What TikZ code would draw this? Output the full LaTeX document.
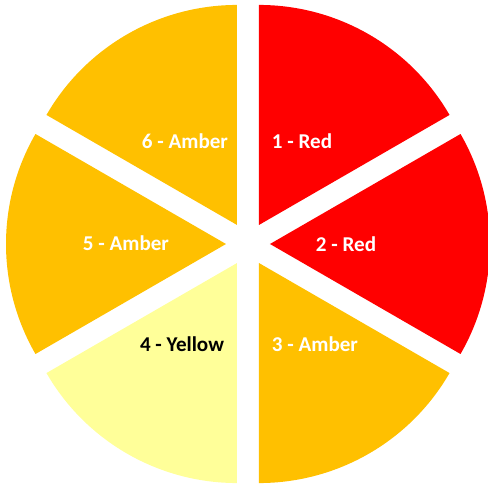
\documentclass[tikz,border=0pt]{standalone}
\usepackage{fontspec}
\setmainfont{Carlito}
\definecolor{sliceRed}{HTML}{FF0000}
\definecolor{sliceAmber}{HTML}{FFC000}
\definecolor{sliceYellow}{HTML}{FFFF99}
\tikzset{slicelabel/.style={font=\fontsize{12}{14}\selectfont\bfseries,text=white}}
\begin{document}
\begin{tikzpicture}[x=0.02cm,y=0.02cm]
\useasboundingbox (-248,-240) rectangle (240,244);
% exploded slices: start angle / end angle / colour
\foreach \s/\e/\c in {90/30/sliceRed,30/-30/sliceRed,-30/-90/sliceAmber,
  -90/-150/sliceYellow,-150/-210/sliceAmber,-210/-270/sliceAmber}{
  \pgfmathsetmacro{\m}{(\s+\e)/2}
  \fill[\c] (\m:22) -- ++(\s:220) arc[start angle=\s,end angle=\e,radius=220] -- cycle;
}
\node[slicelabel] (lbl1) at (54,103) {1 - Red};
\node[slicelabel] (lbl2) at (98,0) {2 - Red};
\node[slicelabel] (lbl3) at (67,-100) {3 - Amber};
\node[slicelabel,text=black] (lbl4) at (-66,-100) {4 - Yellow};
\node[slicelabel] (lbl5) at (-122,1) {5 - Amber};
\node[slicelabel] (lbl6) at (-63,103) {6 - Amber};
\end{tikzpicture}
\end{document}
